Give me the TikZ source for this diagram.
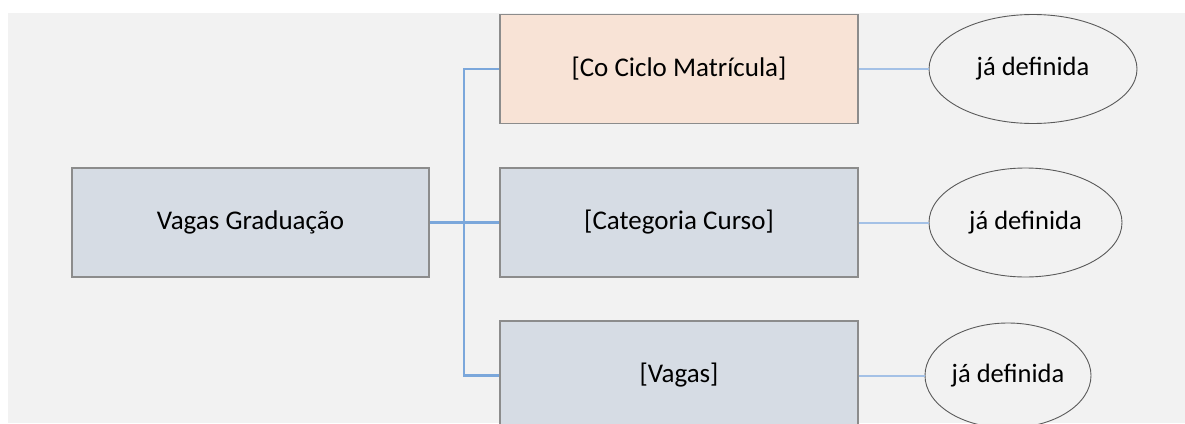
\documentclass[tikz,border=0pt]{standalone}
\usepackage{fontspec}
\setmainfont{Carlito}
\usetikzlibrary{shapes.geometric}
\definecolor{bgc}{HTML}{F2F2F2}
\definecolor{boxc}{HTML}{D6DCE4}
\definecolor{peach}{HTML}{F8E3D6}
\definecolor{bordc}{HTML}{8C8C8C}
\definecolor{elc}{HTML}{5A5A5A}
\definecolor{linkc}{HTML}{7BA7DB}
\definecolor{linkl}{HTML}{A4C1E6}
\tikzset{
  boxnode/.style={draw=bordc, line width=1.3pt, fill=boxc, rectangle, minimum width=357pt, minimum height=109pt, inner sep=0pt, font=\fontsize{27}{32}\selectfont},
  ellnode/.style={draw=elc, line width=0.9pt, fill=bgc, ellipse, inner sep=0pt, font=\fontsize{26.5}{31}\selectfont},
  mainlink/.style={draw=linkc, line width=2.4pt},
  sidelink/.style={draw=linkl, line width=2pt}
}
\begin{document}
\begin{tikzpicture}[x=1pt,y=-1pt]
\useasboundingbox (0,0) rectangle (1185,423);
\clip (0,0) rectangle (1185,423);
\fill[bgc] (8,13) rectangle (1185,423);
\node[boxnode] (L) at (250.5,222.5) {Vagas Graduação};
\node[boxnode, fill=peach, minimum width=358pt] (T) at (679,69) {[Co Ciclo Matrícula]};
\node[boxnode, minimum width=358pt] (M) at (679,222.5) {[Categoria Curso]};
\node[boxnode, minimum width=358pt] (B) at (679,375.5) {[Vagas]};
\node[ellnode, minimum width=208pt, minimum height=109pt] (E1) at (1033,69) {já definida};
\node[ellnode, minimum width=193pt, minimum height=109pt] (E2) at (1025.5,222.5) {já definida};
\node[ellnode, minimum width=166pt, minimum height=105pt] (E3) at (1008,375.5) {já definida};
\coordinate (J) at (464,222.5);
\draw[mainlink] (L.east) -- (M.west);
\draw[mainlink] (J) |- (T.west);
\draw[mainlink] (J) |- (B.west);
\draw[sidelink] (T.east) -- (E1.west);
\draw[sidelink] (M.east) -- (E2.west);
\draw[sidelink] (B.east) -- (E3.west);
\end{tikzpicture}
\end{document}
